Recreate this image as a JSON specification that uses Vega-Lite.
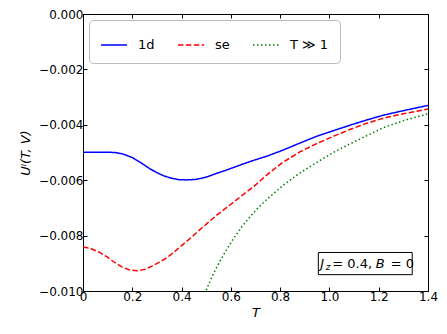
{
  "$schema": "https://vega.github.io/schema/vega-lite/v6.json",
  "width": 345,
  "height": 277,
  "autosize": {"type": "none"},
  "padding": {"left": 83, "top": 14, "right": 19, "bottom": 43},
  "background": "white",
  "config": {
    "font": "DejaVu Sans",
    "view": {"stroke": "black", "strokeWidth": 1},
    "axis": {
      "domainColor": "black",
      "tickColor": "black",
      "tickSize": -4,
      "labelFont": "DejaVu Sans",
      "labelFontSize": 12,
      "labelColor": "black",
      "grid": false,
      "titleFont": "DejaVu Sans",
      "titleFontSize": 13,
      "titleFontWeight": "normal",
      "titleColor": "black"
    }
  },
  "datasets": {
    "curves": [
      {"T": 0.0, "v": -0.00499, "series": "1d"},
      {"T": 0.05, "v": -0.00499, "series": "1d"},
      {"T": 0.10, "v": -0.00499, "series": "1d"},
      {"T": 0.13, "v": -0.00500, "series": "1d"},
      {"T": 0.16, "v": -0.00505, "series": "1d"},
      {"T": 0.20, "v": -0.00518, "series": "1d"},
      {"T": 0.24, "v": -0.00540, "series": "1d"},
      {"T": 0.27, "v": -0.00558, "series": "1d"},
      {"T": 0.30, "v": -0.00573, "series": "1d"},
      {"T": 0.33, "v": -0.00585, "series": "1d"},
      {"T": 0.36, "v": -0.00593, "series": "1d"},
      {"T": 0.39, "v": -0.00598, "series": "1d"},
      {"T": 0.42, "v": -0.00599, "series": "1d"},
      {"T": 0.46, "v": -0.00597, "series": "1d"},
      {"T": 0.50, "v": -0.00589, "series": "1d"},
      {"T": 0.54, "v": -0.00576, "series": "1d"},
      {"T": 0.58, "v": -0.00564, "series": "1d"},
      {"T": 0.62, "v": -0.00551, "series": "1d"},
      {"T": 0.68, "v": -0.00532, "series": "1d"},
      {"T": 0.75, "v": -0.00512, "series": "1d"},
      {"T": 0.81, "v": -0.00492, "series": "1d"},
      {"T": 0.88, "v": -0.00466, "series": "1d"},
      {"T": 0.95, "v": -0.00441, "series": "1d"},
      {"T": 1.02, "v": -0.00420, "series": "1d"},
      {"T": 1.085, "v": -0.00401, "series": "1d"},
      {"T": 1.15, "v": -0.00383, "series": "1d"},
      {"T": 1.22, "v": -0.00365, "series": "1d"},
      {"T": 1.30, "v": -0.00349, "series": "1d"},
      {"T": 1.40, "v": -0.00330, "series": "1d"},
      {"T": 0.0, "v": -0.00841, "series": "se"},
      {"T": 0.03, "v": -0.00846, "series": "se"},
      {"T": 0.066, "v": -0.00860, "series": "se"},
      {"T": 0.10, "v": -0.00878, "series": "se"},
      {"T": 0.13, "v": -0.00898, "series": "se"},
      {"T": 0.16, "v": -0.00914, "series": "se"},
      {"T": 0.19, "v": -0.00924, "series": "se"},
      {"T": 0.22, "v": -0.00927, "series": "se"},
      {"T": 0.25, "v": -0.00922, "series": "se"},
      {"T": 0.28, "v": -0.00910, "series": "se"},
      {"T": 0.31, "v": -0.00896, "series": "se"},
      {"T": 0.34, "v": -0.00880, "series": "se"},
      {"T": 0.37, "v": -0.00859, "series": "se"},
      {"T": 0.40, "v": -0.00836, "series": "se"},
      {"T": 0.44, "v": -0.00806, "series": "se"},
      {"T": 0.47, "v": -0.00782, "series": "se"},
      {"T": 0.54, "v": -0.00728, "series": "se"},
      {"T": 0.61, "v": -0.00680, "series": "se"},
      {"T": 0.66, "v": -0.00645, "series": "se"},
      {"T": 0.69, "v": -0.00625, "series": "se"},
      {"T": 0.75, "v": -0.00578, "series": "se"},
      {"T": 0.81, "v": -0.00536, "series": "se"},
      {"T": 0.88, "v": -0.00498, "series": "se"},
      {"T": 0.95, "v": -0.00467, "series": "se"},
      {"T": 1.02, "v": -0.00440, "series": "se"},
      {"T": 1.085, "v": -0.00416, "series": "se"},
      {"T": 1.15, "v": -0.00395, "series": "se"},
      {"T": 1.22, "v": -0.00376, "series": "se"},
      {"T": 1.30, "v": -0.00360, "series": "se"},
      {"T": 1.40, "v": -0.00343, "series": "se"},
      {"T": 0.50, "v": -0.00997, "series": "T ≫ 1"},
      {"T": 0.52, "v": -0.00955, "series": "T ≫ 1"},
      {"T": 0.545, "v": -0.00910, "series": "T ≫ 1"},
      {"T": 0.575, "v": -0.00862, "series": "T ≫ 1"},
      {"T": 0.61, "v": -0.00812, "series": "T ≫ 1"},
      {"T": 0.647, "v": -0.00765, "series": "T ≫ 1"},
      {"T": 0.68, "v": -0.00730, "series": "T ≫ 1"},
      {"T": 0.71, "v": -0.00700, "series": "T ≫ 1"},
      {"T": 0.75, "v": -0.00666, "series": "T ≫ 1"},
      {"T": 0.81, "v": -0.00620, "series": "T ≫ 1"},
      {"T": 0.88, "v": -0.00574, "series": "T ≫ 1"},
      {"T": 0.95, "v": -0.00535, "series": "T ≫ 1"},
      {"T": 1.02, "v": -0.00498, "series": "T ≫ 1"},
      {"T": 1.085, "v": -0.00468, "series": "T ≫ 1"},
      {"T": 1.15, "v": -0.00440, "series": "T ≫ 1"},
      {"T": 1.22, "v": -0.00410, "series": "T ≫ 1"},
      {"T": 1.30, "v": -0.00385, "series": "T ≫ 1"},
      {"T": 1.40, "v": -0.00360, "series": "T ≫ 1"}
    ],
    "box": [{"x1": 0.955, "x2": 1.336, "y1": -0.00861, "y2": -0.00941}],
    "anchor": [{"T": 0.963, "v": -0.00901}]
  },
  "layer": [
    {
      "data": {"name": "curves"},
      "mark": {"type": "line", "strokeWidth": 1.5, "clip": true},
      "encoding": {
        "x": {
          "field": "T", "type": "quantitative",
          "scale": {"domain": [0, 1.4], "nice": false, "zero": false},
          "axis": {"title": "T", "titleFontStyle": "italic", "values": [0, 0.2, 0.4, 0.6, 0.8, 1.0, 1.2, 1.4],
                   "labelExpr": "datum.value == 0 ? '0' : format(datum.value, '.1f')",
                   "labelPadding": 4, "titlePadding": 4, "labelFlush": false}
        },
        "y": {
          "field": "v", "type": "quantitative",
          "scale": {"domain": [-0.01, 0], "nice": false, "zero": false},
          "axis": {"title": "Uˡ(T, V)", "titleFontStyle": "italic", "values": [-0.01, -0.008, -0.006, -0.004, -0.002, 0],
                   "format": ".3f", "labelPadding": 4, "titlePadding": 6, "labelFlush": false}
        },
        "color": {
          "field": "series", "type": "nominal",
          "scale": {"domain": ["1d", "se", "T ≫ 1"], "range": ["#0000ff", "#ff0000", "#008000"]},
          "legend": {
            "title": null, "orient": "top-left", "direction": "horizontal", "offset": 6,
            "symbolType": "stroke", "symbolSize": 676, "symbolStrokeWidth": 1.5,
            "labelFontSize": 13, "labelFont": "DejaVu Sans", "labelColor": "black",
            "labelOffset": 10, "columnPadding": 20, "padding": 11,
            "fillColor": "white", "strokeColor": "#bbbbbb", "cornerRadius": 4
          }
        },
        "strokeDash": {
          "field": "series", "type": "nominal",
          "scale": {"domain": ["1d", "se", "T ≫ 1"], "range": [[1, 0], [5.5, 2.4], [1.5, 2.5]]},
          "legend": {
            "title": null, "orient": "top-left", "direction": "horizontal", "offset": 6,
            "symbolType": "stroke", "symbolSize": 676, "symbolStrokeWidth": 1.5,
            "labelFontSize": 13, "labelFont": "DejaVu Sans", "labelColor": "black",
            "labelOffset": 10, "columnPadding": 20, "padding": 11,
            "fillColor": "white", "strokeColor": "#bbbbbb", "cornerRadius": 4
          }
        }
      }
    },
    {
      "data": {"name": "curves"},
      "mark": {"type": "line", "opacity": 0},
      "encoding": {
        "x": {"field": "T", "type": "quantitative",
              "axis": {"orient": "top", "labels": false, "title": null, "values": [0, 0.2, 0.4, 0.6, 0.8, 1.0, 1.2, 1.4]}},
        "y": {"field": "v", "type": "quantitative",
              "axis": {"orient": "right", "labels": false, "title": null, "values": [-0.01, -0.008, -0.006, -0.004, -0.002, 0]}},
        "detail": {"field": "series"}
      }
    },
    {
      "data": {"name": "box"},
      "mark": {"type": "rect", "fill": "white", "stroke": "black", "strokeWidth": 1},
      "encoding": {
        "x": {"field": "x1", "type": "quantitative", "axis": null},
        "x2": {"field": "x2"},
        "y": {"field": "y1", "type": "quantitative", "axis": null},
        "y2": {"field": "y2"}
      }
    },
    {
      "data": {"name": "anchor"},
      "mark": {"type": "text", "text": "J", "fontStyle": "italic", "fontSize": 13, "align": "left", "baseline": "middle", "color": "black"},
      "encoding": {"x": {"field": "T", "type": "quantitative", "axis": null}, "y": {"field": "v", "type": "quantitative", "axis": null}}
    },
    {
      "data": {"name": "anchor"},
      "mark": {"type": "text", "text": "z", "fontStyle": "italic", "fontSize": 9, "align": "left", "baseline": "middle", "dx": 5.5, "dy": 3.5, "color": "black"},
      "encoding": {"x": {"field": "T", "type": "quantitative", "axis": null}, "y": {"field": "v", "type": "quantitative", "axis": null}}
    },
    {
      "data": {"name": "anchor"},
      "mark": {"type": "text", "text": "= 0.4,", "fontSize": 13, "align": "left", "baseline": "middle", "dx": 12, "color": "black"},
      "encoding": {"x": {"field": "T", "type": "quantitative", "axis": null}, "y": {"field": "v", "type": "quantitative", "axis": null}}
    },
    {
      "data": {"name": "anchor"},
      "mark": {"type": "text", "text": "B", "fontStyle": "italic", "fontSize": 13, "align": "left", "baseline": "middle", "dx": 55.5, "color": "black"},
      "encoding": {"x": {"field": "T", "type": "quantitative", "axis": null}, "y": {"field": "v", "type": "quantitative", "axis": null}}
    },
    {
      "data": {"name": "anchor"},
      "mark": {"type": "text", "text": "= 0", "fontSize": 13, "align": "left", "baseline": "middle", "dx": 70.5, "color": "black"},
      "encoding": {"x": {"field": "T", "type": "quantitative", "axis": null}, "y": {"field": "v", "type": "quantitative", "axis": null}}
    }
  ],
  "resolve": {"axis": {"x": "independent", "y": "independent"}}
}
